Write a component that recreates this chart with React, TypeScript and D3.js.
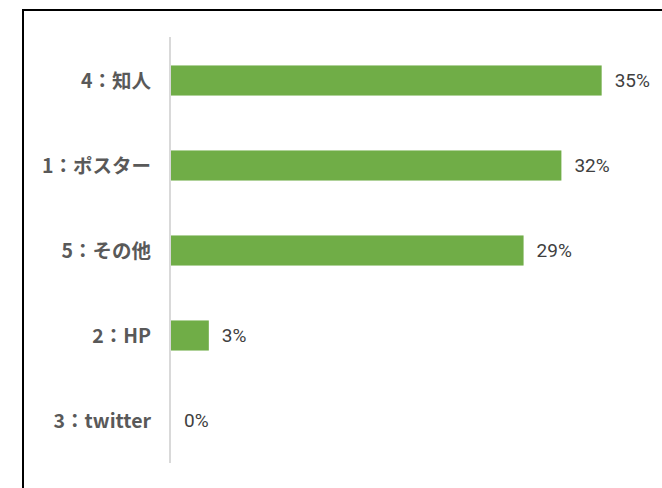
import React from "react";
import * as d3 from "d3";

const categories = ["4：知人", "1：ポスター", "5：その他", "2：HP", "3：twitter"];
const values = [35.3, 32.0, 28.9, 3.1, 0];
const valueLabels = ["35%", "32%", "29%", "3%", "0%"];

const W = 662;
const H = 488;

export default function App() {
  const x = d3.scaleLinear().domain([0, 40]).range([171, 171 + 488]);
  const y = d3
    .scaleBand<string>()
    .domain(categories)
    .range([38, 463])
    .paddingInner(0.646)
    .paddingOuter(0.323);
  const bw = y.bandwidth();

  return (
    <svg
      width={W}
      height={H}
      style={{ position: "fixed", left: 0, top: 0, background: "#fff" }}
    >
      <rect x={0} y={0} width={W} height={H} fill="#fff" />
      <rect x={23} y={10} width={W + 20} height={H + 20} fill="none" stroke="#000" strokeWidth={2} />
      {categories.map((c, i) => {
        const yc = (y(c) as number) + bw / 2;
        return (
          <g key={c}>
            {values[i] > 0 && (
              <rect
                x={x(0)}
                y={y(c)}
                width={x(values[i]) - x(0)}
                height={bw}
                fill="#70AD47"
              />
            )}
            <text
              x={x(values[i]) + 13}
              y={yc}
              dy="0.36em"
              fontFamily="Roboto, 'Noto Sans', sans-serif"
              fontSize={19}
              fill="#404040"
            >
              {valueLabels[i]}
            </text>
            <text
              x={151}
              y={yc}
              dy="0.36em"
              textAnchor="end"
              fontFamily="'Noto Sans CJK JP', 'Noto Sans', sans-serif"
              fontWeight="bold"
              fontSize={19.5}
              fill="#595959"
            >
              {c}
            </text>
          </g>
        );
      })}
      <line x1={170} x2={170} y1={37} y2={463} stroke="#D9D9D9" strokeWidth={2} />
    </svg>
  );
}
